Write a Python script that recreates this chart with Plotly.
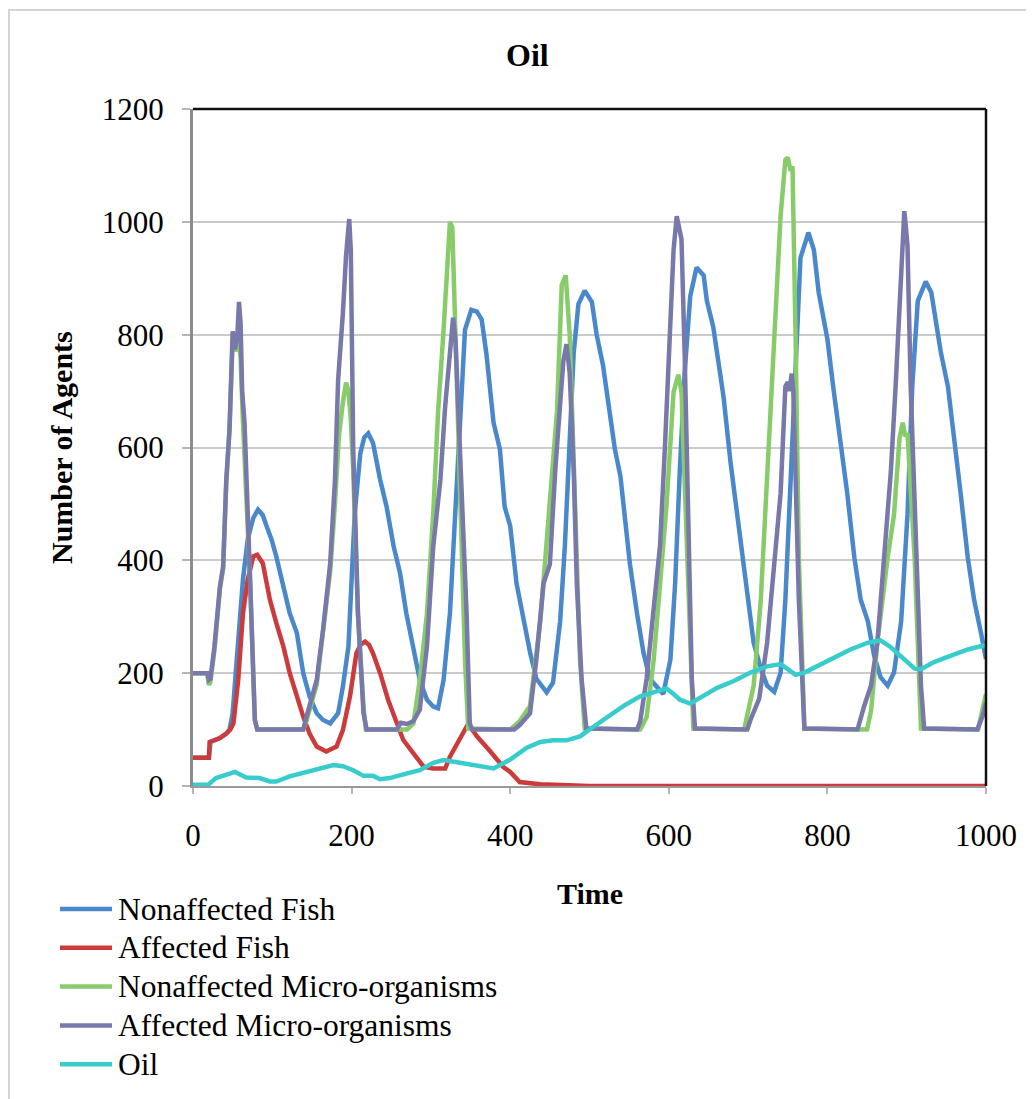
import plotly.graph_objects as go

# ---------------- data ----------------
series_names = ["Nonaffected Fish", "Affected Fish", "Nonaffected Micro-organisms",
                "Affected Micro-organisms", "Oil"]
series_colors = ["#4A88CC", "#CC3B3B", "#88CC6A", "#7878AA", "#38CCCC"]

t_nonaffected_fish = [0, 20, 22, 25, 34, 42, 46, 50, 57, 63, 69, 76, 82, 88, 93, 99, 105, 114, 122, 131,
                      139, 147, 156, 164, 173, 183, 189, 196, 200, 204, 211, 216, 221, 227, 236, 244, 253,
                      261, 269, 278, 286, 295, 303, 309, 316, 324, 331, 337, 343, 351, 358, 364, 370, 379,
                      387, 393, 400, 408, 417, 425, 433, 446, 454, 463, 469, 475, 480, 486, 494, 503, 509,
                      517, 526, 532, 539, 545, 551, 560, 568, 576, 587, 593, 602, 608, 614, 620, 627, 635,
                      644, 648, 656, 662, 669, 678, 686, 693, 699, 707, 716, 724, 733, 741, 747, 754, 760,
                      766, 776, 783, 789, 794, 800, 808, 817, 825, 834, 842, 851, 859, 867, 876, 884, 893,
                      901, 907, 914, 924, 931, 937, 943, 952, 960, 968, 977, 985, 994, 1000]
v_nonaffected_fish = [50, 50, 78, 80, 85, 93, 100, 129, 247, 366, 437, 475, 490, 480, 460, 437, 407, 354, 306, 271,
                      200, 159, 129, 117, 111, 129, 176, 247, 366, 484, 590, 618, 625, 608, 543, 496, 425,
                      378, 306, 247, 188, 153, 141, 138, 188, 306, 484, 640, 809, 844, 841, 827, 766, 644,
                      597, 495, 461, 359, 292, 237, 190, 166, 183, 292, 427, 631, 766, 854, 878, 858, 800,
                      746, 664, 597, 549, 461, 393, 305, 237, 190, 173, 163, 224, 359, 563, 732, 868, 919,
                      905, 860, 814, 760, 690, 572, 481, 405, 330, 254, 208, 178, 167, 201, 330, 557, 784,
                      936, 981, 950, 875, 837, 792, 700, 610, 519, 405, 330, 292, 231, 193, 178, 201, 292,
                      481, 708, 860, 894, 875, 822, 769, 708, 617, 519, 405, 330, 269, 225]

t_affected_fish = [0, 20, 21, 25, 28, 34, 42, 47, 51, 57, 63, 69, 76, 81, 88, 97, 105, 114, 122, 131, 139,
                   147, 156, 168, 181, 189, 198, 206, 211, 217, 222, 227, 236, 246, 257, 265, 278, 291, 303,
                   318, 324, 333, 340, 345, 352, 358, 375, 391, 400, 412, 438, 470, 500, 1000]
v_affected_fish = [50, 50, 78, 80, 82, 85, 93, 100, 111, 188, 306, 366, 407, 410, 395, 330, 289, 247, 200, 159, 123,
                   93, 70, 61, 70, 99, 159, 235, 250, 256, 250, 235, 200, 153, 111, 82, 58, 34, 31,
                   31, 52, 76, 95, 105, 100, 88, 61, 34, 25, 7, 3, 1, 0, 0]

t_nonaffected_micro = [0, 18, 20, 22, 27, 34, 38, 42, 46, 50, 53, 56, 58, 60, 63, 66, 72, 78, 81, 139, 143, 156,
                       164, 173, 179, 184, 189, 193, 196, 199, 202, 208, 215, 218, 270, 278, 286, 295, 303,
                       309, 316, 321, 324, 327, 331, 337, 343, 347, 400, 412, 425, 438, 450, 459, 465, 470,
                       475, 480, 488, 494, 564, 572, 581, 589, 597, 606, 610, 612, 616, 623, 631, 695, 699,
                       707, 716, 724, 733, 741, 747, 750, 753, 756, 760, 764, 771, 850, 855, 863, 876, 884,
                       891, 895, 898, 901, 910, 918, 990, 1000]
v_nonaffected_micro = [200, 200, 179, 185, 240, 350, 385, 540, 630, 790, 770, 790, 780, 760, 644, 560, 365, 117, 100, 100, 115, 180,
                       270, 380, 500, 620, 680, 715, 700, 650, 560, 306, 140, 100, 100, 111, 188, 306, 484,
                       662, 809, 950, 1000, 990, 800, 563, 224, 102, 100, 115, 142, 292, 495, 664, 888, 905,
                       800, 563, 224, 102, 100, 122, 224, 359, 495, 698, 725, 729, 698, 427, 102, 100, 125,
                       178, 330, 557, 784, 1011, 1110, 1114, 1095, 1098, 784, 405, 102, 100, 133, 254, 405, 481,
                       617, 644, 620, 625, 405, 102, 100, 163]

t_affected_micro = [0, 18, 20, 22, 27, 34, 38, 42, 46, 50, 53, 56, 58, 60, 62, 65, 72, 78, 81, 139, 143, 156,
                    164, 173, 179, 183, 189, 193, 197, 199, 202, 208, 215, 219, 257, 262, 270, 278, 286, 295,
                    303, 312, 318, 324, 328, 331, 337, 345, 349, 352, 405, 412, 425, 433, 442, 450, 457, 463,
                    467, 471, 475, 480, 484, 490, 496, 560, 564, 572, 581, 589, 595, 602, 606, 610, 613, 616,
                    620, 625, 629, 633, 699, 703, 714, 724, 733, 741, 747, 750, 752, 755, 757, 760, 764, 771,
                    838, 846, 855, 863, 872, 880, 886, 891, 897, 899, 901, 905, 912, 918, 922, 989, 996, 1000]
v_affected_micro = [200, 200, 188, 190, 247, 354, 389, 543, 632, 806, 774, 800, 858, 820, 700, 643, 365, 117, 100, 100, 122, 188,
                    277, 395, 542, 720, 838, 940, 1005, 950, 601, 306, 129, 100, 100, 112, 110, 115, 135, 247,
                    425, 543, 673, 780, 830, 790, 601, 306, 111, 100, 100, 108, 129, 224, 359, 393, 563, 664,
                    753, 783, 732, 563, 359, 190, 102, 100, 115, 190, 325, 427, 597, 834, 950, 1010, 990, 969,
                    766, 427, 190, 102, 100, 117, 155, 254, 405, 519, 708, 716, 700, 731, 700, 557, 330, 102,
                    100, 140, 178, 254, 405, 557, 708, 860, 1019, 990, 958, 708, 405, 178, 102, 100, 125, 148]

t_oil = [0, 19, 29, 46, 53, 67, 84, 97, 105, 122, 143, 160, 177, 189, 202, 215, 227, 236, 248, 269, 286, 303,
         316, 333, 354, 379, 400, 421, 438, 454, 471, 488, 505, 522, 543, 564, 581, 597, 606, 614, 627, 644,
         661, 682, 703, 724, 741, 749, 760, 771, 787, 808, 829, 851, 867, 880, 897, 910, 918, 935, 956, 977, 1000]
v_oil = [2, 2, 14, 22, 25, 15, 14, 8, 8, 17, 25, 31, 37, 35, 28, 18, 18, 12, 14, 22, 28, 41,
         46, 42, 37, 31, 47, 68, 78, 81, 81, 88, 105, 122, 142, 159, 166, 173, 163, 153, 146, 159,
         174, 186, 201, 212, 216, 208, 197, 201, 212, 227, 242, 254, 258, 246, 223, 208, 207, 220, 231, 242, 250]

x_ticks = [0, 200, 400, 600, 800, 1000]
y_ticks = [0, 200, 400, 600, 800, 1000, 1200]

series_t = [t_nonaffected_fish, t_affected_fish, t_nonaffected_micro, t_affected_micro, t_oil]
series_v = [v_nonaffected_fish, v_affected_fish, v_nonaffected_micro, v_affected_micro, v_oil]

FONT = "Liberation Serif"

fig = go.Figure()
for name, color, tt, vv in zip(series_names, series_colors, series_t, series_v):
    fig.add_trace(go.Scatter(x=tt, y=vv, mode="lines", name=name,
                             line=dict(color=color, width=4.5), showlegend=False))

# page body has an 8px margin: the figure is placed at (8, 8)
OFF = 8
W, H = 1034 - OFF, 1099 - OFF
L, T = 193 - OFF, 109 - OFF
R = W - (986 - OFF)
B = H - (786 - OFF)
pw, ph = W - L - R, H - T - B

def px(x):
    return (x - OFF - L) / pw

def py(y):
    return (H - B - (y - OFF)) / ph

shapes = []
# outer chart frame
shapes.append(dict(type="rect", xref="paper", yref="paper", x0=px(9), x1=px(1080),
                   y0=py(1140), y1=py(10), line=dict(color="#D4D4D4", width=2), layer="below"))
# black top/right border of the plot area
shapes.append(dict(type="line", xref="paper", yref="paper", x0=0, x1=1, y0=1, y1=1,
                   line=dict(color="#111111", width=2.5)))
shapes.append(dict(type="line", xref="paper", yref="paper", x0=1, x1=1, y0=0, y1=1,
                   line=dict(color="#111111", width=2.5)))

annotations = []
annotations.append(dict(text="<b>Oil</b>", xref="paper", yref="paper", x=px(527), y=py(55),
                        showarrow=False, xanchor="center", yanchor="middle",
                        font=dict(family=FONT, size=32, color="black")))
annotations.append(dict(text="<b>Time</b>", xref="paper", yref="paper", x=px(590), y=py(893),
                        showarrow=False, xanchor="center", yanchor="middle",
                        font=dict(family=FONT, size=30, color="black")))
annotations.append(dict(text="<b>Number of Agents</b>", xref="paper", yref="paper", x=px(62), y=py(448),
                        showarrow=False, xanchor="center", yanchor="middle", textangle=-90,
                        font=dict(family=FONT, size=30, color="black")))

# legend (drawn manually to match line sample length/spacing)
leg_y0, leg_step = 909, 38.8
for i, (name, color) in enumerate(zip(series_names, series_colors)):
    yy = leg_y0 + i * leg_step
    shapes.append(dict(type="line", xref="paper", yref="paper", x0=px(60), x1=px(112),
                       y0=py(yy), y1=py(yy), line=dict(color=color, width=4.5)))
    annotations.append(dict(text=name, xref="paper", yref="paper", x=px(116), y=py(yy),
                            showarrow=False, xanchor="left", yanchor="middle",
                            font=dict(family=FONT, size=31.5, color="black")))

fig.update_layout(
    width=W, height=H,
    margin=dict(l=L, r=R, t=T, b=B, pad=0),
    paper_bgcolor="white", plot_bgcolor="white",
    font=dict(family=FONT, size=30, color="black"),
    showlegend=False,
    shapes=shapes, annotations=annotations,
    xaxis=dict(range=[0, 1000], tickvals=x_ticks, ticktext=[str(v) for v in x_ticks],
               showgrid=False, zeroline=False, showline=True, linecolor="#9A9A9A", linewidth=2,
               ticks="outside", ticklen=6, tickwidth=1.5, tickcolor="#B4B4B4",
               ticklabelstandoff=15, layer="below traces",
               tickfont=dict(family=FONT, size=31, color="black")),
    yaxis=dict(range=[0, 1200], tickvals=y_ticks, ticktext=[str(v) for v in y_ticks],
               showgrid=True, gridcolor="#CBCBCB", gridwidth=1.5, zeroline=False,
               showline=True, linecolor="#8C8C8C", linewidth=3,
               ticks="outside", ticklen=8, tickwidth=1.5, tickcolor="#B4B4B4",
               ticklabelstandoff=12,
               tickfont=dict(family=FONT, size=31, color="black")),
)

fig.write_html("out.html")
